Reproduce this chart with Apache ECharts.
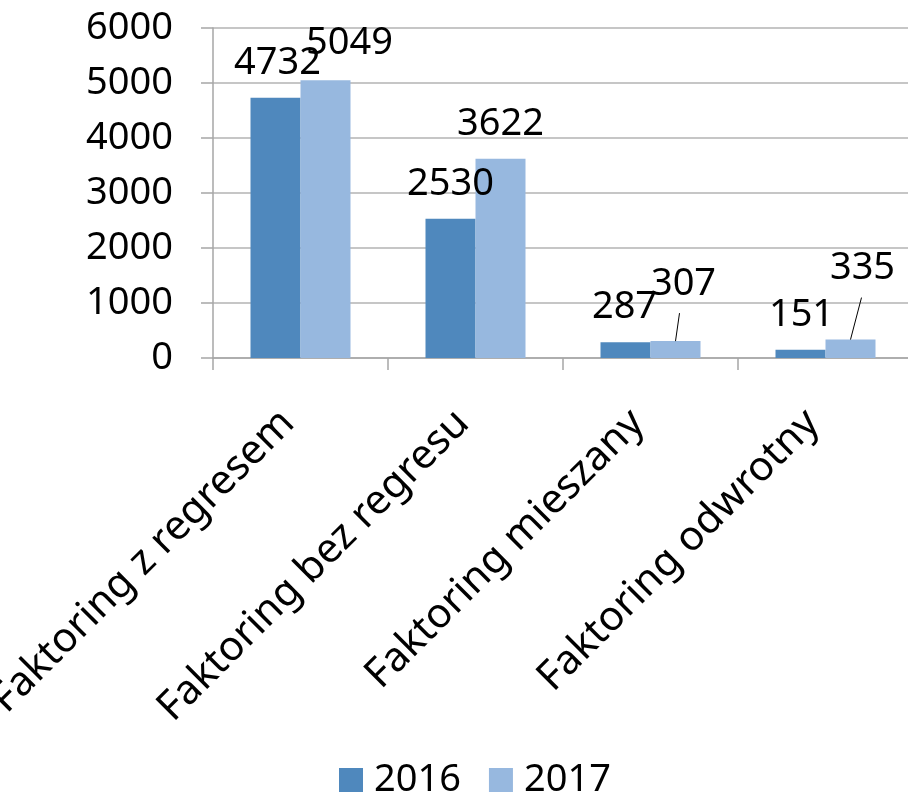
<!DOCTYPE html>
<html>
<head>
<meta charset="utf-8">
<script src="https://cdn.jsdelivr.net/npm/echarts@6/dist/echarts.min.js"></script>
<style>html,body{margin:0;padding:0;background:#fff}#c{width:908px;height:797px}</style>
</head>
<body>
<div id="c"></div>
<script>
const categories = ['Faktoring z regresem', 'Faktoring bez regresu', 'Faktoring mieszany', 'Faktoring odwrotny'];
const values2016 = [4732, 2530, 287, 151];
const values2017 = [5049, 3622, 307, 335];
const yTicks = [0, 1000, 2000, 3000, 4000, 5000, 6000];

const FONT = '"Noto Sans", "Open Sans", sans-serif';
const chart = echarts.init(document.getElementById('c'));

// label nudges (dx, dy) to mimic original placement
const nudge2016 = [[2, 0], [0, 0], [-1, 0], [1, 0]];
const nudge2017 = [[24, -2], [0, 0], [8, -22], [12, -36]];
// leader lines for moved 2017 labels: [dx, dy] of the line's upper end, relative to bar top centre
const leader2017 = [null, null, [4, -28], [11, -42]];

const BAR_W = 50;

function layoutFor(nudges) {
  return function (p) {
    const n = nudges[p.dataIndex];
    return { dx: n[0], dy: n[1] };
  };
}

const leaderData = [];
values2017.forEach(function (v, i) { if (leader2017[i]) leaderData.push([i, v, leader2017[i][0], leader2017[i][1]]); });

chart.setOption({
  animation: false,
  textStyle: { fontFamily: FONT },
  grid: { left: 213, right: -5, top: 28, bottom: 439, containLabel: false, outerBoundsMode: 'none' },
  legend: {
    bottom: -7,
    left: 334,
    itemWidth: 24,
    itemHeight: 24,
    itemGap: 28,
    icon: 'rect',
    textStyle: { fontSize: 38, color: '#000', fontFamily: FONT, padding: [0, 0, 0, 6] },
    data: ['2016', '2017']
  },
  xAxis: {
    type: 'category',
    data: categories,
    axisLine: { lineStyle: { color: '#a6a6a6', width: 1.5 } },
    axisTick: { show: true, length: 12, lineStyle: { color: '#a6a6a6', width: 1.5 } },
    axisLabel: { rotate: 45, fontSize: 41, color: '#000', margin: 46, interval: 0, fontFamily: FONT, padding: [0, 18, 0, 0] }
  },
  yAxis: {
    type: 'value',
    min: yTicks[0],
    max: yTicks[yTicks.length - 1],
    interval: 1000,
    axisLine: { show: true, lineStyle: { color: '#a6a6a6', width: 1.5 } },
    axisTick: { show: true, length: 12, lineStyle: { color: '#a6a6a6', width: 1.5 } },
    splitLine: { lineStyle: { color: '#b3b3b3', width: 1.5 } },
    axisLabel: { fontSize: 38, color: '#000', margin: 40, fontFamily: FONT, formatter: function (v) { return String(v); } }
  },
  series: [
    {
      name: '2016',
      type: 'bar',
      data: values2016,
      barWidth: BAR_W,
      barGap: '0%',
      itemStyle: { color: '#4f88bd' },
      label: { show: true, position: 'top', distance: 16, fontSize: 38, color: '#000', fontFamily: FONT },
      labelLayout: layoutFor(nudge2016)
    },
    {
      name: '2017',
      type: 'bar',
      data: values2017,
      barWidth: BAR_W,
      barGap: '0%',
      itemStyle: { color: '#97b8df' },
      label: { show: true, position: 'top', distance: 16, fontSize: 38, color: '#000', fontFamily: FONT },
      labelLayout: layoutFor(nudge2017)
    },
    {
      name: 'leaders',
      type: 'custom',
      silent: true,
      z: 5,
      data: leaderData,
      encode: { x: 0, y: 1 },
      renderItem: function (params, api) {
        const p = api.coord([api.value(0), api.value(1)]);
        const x0 = p[0] + BAR_W / 2;
        const y0 = p[1];
        return {
          type: 'line',
          shape: { x1: x0, y1: y0, x2: x0 + api.value(2), y2: y0 + api.value(3) },
          style: { stroke: '#000', lineWidth: 1 }
        };
      }
    }
  ]
});
</script>
</body>
</html>
